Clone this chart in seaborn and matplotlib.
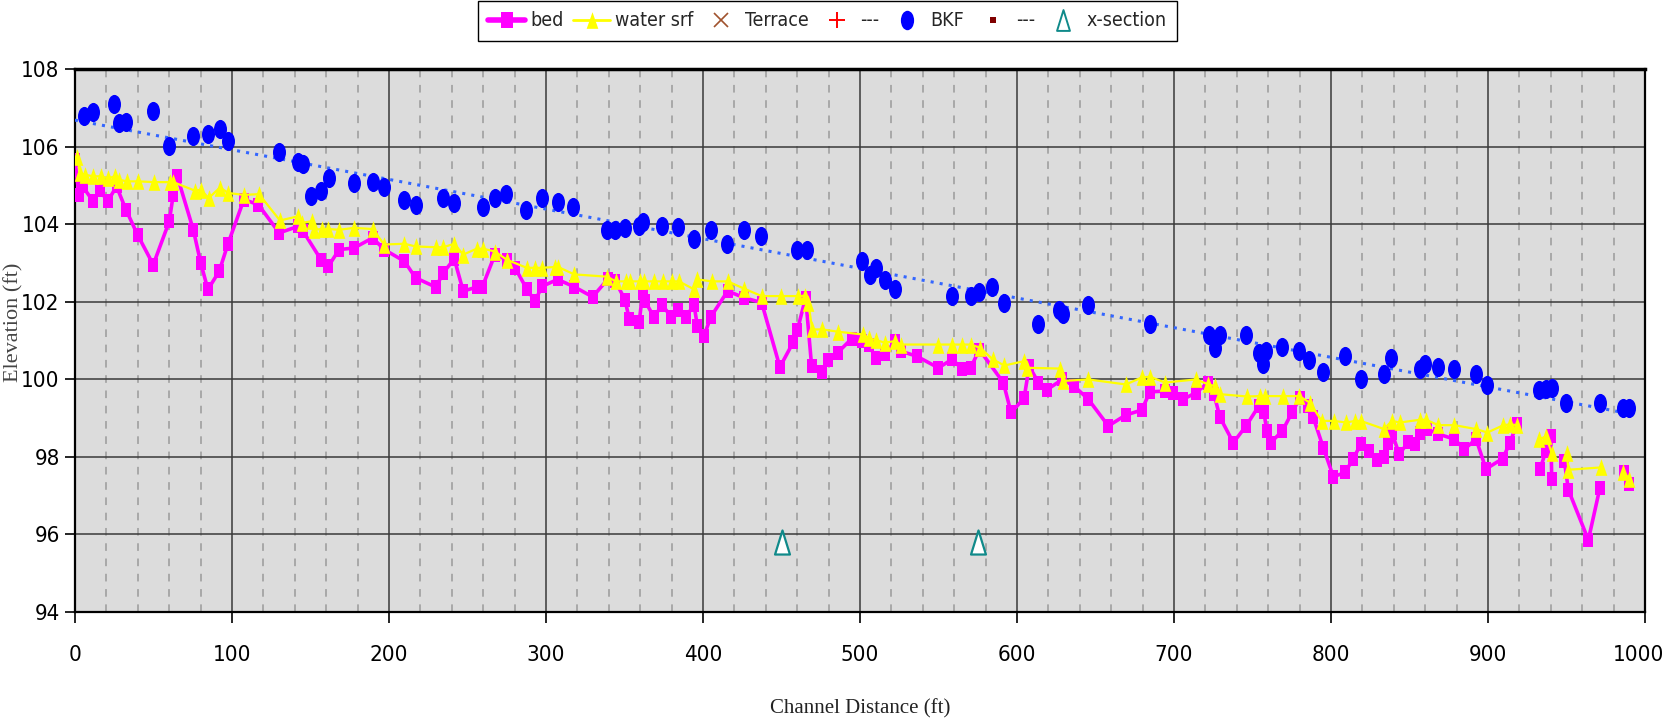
import numpy as np
import pandas as pd
import seaborn as sns
import matplotlib.pyplot as plt
import matplotlib.transforms as mtransforms
from matplotlib.path import Path
from matplotlib.lines import Line2D

# ---- data ----
nan = np.nan

bed_x = [0.0, 2.5, 4.9, 11.7, 15.9, 20.8, 26.5, 32.5, 39.9, 49.9, 60.1, 62.6, 65.2, 75.4, 80.1,
         84.7, 91.9, 97.5, 107.6, 116.8, 130.1, 142.2, 145.4, 156.7, 161.4, 168.3, 177.7, 189.6,
         197.0, 209.8, 217.0, 229.9, 234.6, 241.6, 247.3, 255.8, 259.4, 267.5, 275.0, 280.3, 287.7,
         293.0, 297.5, 307.4, 318.0, 329.7, 339.7, 344.0, 350.3, 353.1, 359.4, 361.6, 363.1, 368.8,
         374.1, 379.6, 384.3, 389.2, 394.3, 396.4, 400.6, 405.1, 415.7, 426.1, 437.4, 449.0, 457.5,
         460.1, 465.4, 469.2, 475.6, 479.4, 485.8, 494.7, 501.1, 505.9, 510.2, 516.0, 522.3, 525.9,
         536.1, 549.9, 558.8, 565.2, 570.5, 576.0, 591.3, 596.2, 604.5, 607.8, 613.6, 618.9, 628.9,
         636.3, 645.4, 658.2, 669.2, 679.4, 684.7, 694.3, 699.6, 706.0, 714.0, 721.9, 725.5, 729.3,
         737.8, 745.9, 754.1, 757.3, 759.1, 761.6, 769.0, 775.2, 780.3, 785.6, 788.7, 795.1, 801.5,
         809.0, 814.2, 819.0, 824.4, 829.1, 833.8, 836.5, 838.7, 843.5, 849.3, 853.5, 856.7, 861.0,
         868.4, 878.6, 884.9, 892.4, 898.7, 909.4, 914.0, 918.3, nan, 933.1, 937.0, 940.0, 940.6,
         nan, 948.6, 951.2, 963.9, 971.3, nan, 986.6, 990.0]
bed_y = [105.67, 104.76, 104.98, 104.59, 104.89, 104.59, 104.98, 104.38, 103.73, 102.96, 104.08,
         104.76, 105.24, 103.86, 103.01, 102.32, 102.79, 103.50, 104.64, 104.51, 103.78, 103.95,
         103.82, 103.09, 102.92, 103.35, 103.39, 103.65, 103.35, 103.05, 102.62, 102.38, 102.75,
         103.11, 102.28, 102.38, 102.38, 103.22, 103.09, 102.88, 102.34, 102.02, 102.40, 102.58,
         102.39, 102.13, 102.60, 102.55, 102.06, 101.55, 101.49, 102.23, 102.02, 101.61, 101.93,
         101.61, 101.78, 101.61, 101.93, 101.39, 101.12, 101.62, 102.28, 102.11, 101.98, 100.32,
         100.96, 101.27, 102.11, 100.35, 100.19, 100.50, 100.69, 101.05, 100.99, 100.88, 100.54,
         100.65, 100.99, 100.73, 100.60, 100.30, 100.52, 100.26, 100.30, 100.77, 99.92, 99.15,
         99.51, 100.34, 99.92, 99.73, 100.00, 99.83, 99.49, 98.80, 99.08, 99.21, 99.68, 99.70,
         99.66, 99.49, 99.66, 99.92, 99.62, 99.02, 98.37, 98.80, 99.32, 99.15, 98.67, 98.37, 98.67,
         99.15, 99.53, 99.32, 99.02, 98.24, 97.49, 97.60, 97.96, 98.33, 98.16, 97.93, 97.99, 98.37,
         98.63, 98.07, 98.39, 98.33, 98.63, 98.72, 98.59, 98.46, 98.20, 98.46, 97.69, 97.96, 98.37,
         98.84, nan, 97.69, 98.16, 98.54, 97.43, nan, 97.90, 97.15, 95.86, 97.21, nan, 97.60, 97.30]

water_x = [1.5, 3.2, 6.4, 11.7, 16.3, 21.2, 25.5, 28.2, 32.9, 40.3, 50.3, 60.5, 62.6, 76.4, 80.1,
           85.2, 92.4, 97.6, 107.6, 117.2, 130.6, 142.2, 144.4, 150.8, 152.4, 157.1, 161.4, 168.3,
           177.7, 189.6, 197.0, 209.8, 217.0, 229.9, 234.6, 241.6, 247.3, 255.8, 260.1, 267.5, 275.0,
           287.7, 293.0, 297.5, 305.7, 307.8, 318.0, 339.0, 344.4, 350.8, 353.5, 359.9, 362.6, 369.0,
           374.7, 380.0, 384.7, 394.5, 396.4, 405.5, 415.7, 426.3, 437.4, 449.5, 460.3, 465.0, 467.1,
           469.6, 476.0, 486.2, 501.7, 505.9, 510.4, 516.0, 522.3, 525.9, 549.9, 558.8, 565.2, 570.5,
           576.4, 584.5, 591.9, 604.5, 606.6, 627.4, 629.1, 645.4, 669.4, 679.4, 684.7, 694.3, 714.0,
           721.9, 726.1, 729.3, 746.3, 754.8, 758.0, 769.2, 779.8, 786.6, 794.0, 801.9, 809.6, 815.3,
           818.9, 833.8, 838.7, 844.0, 856.7, 860.5, 868.4, 878.6, 892.4, 899.6, 909.8, 914.0, 918.7,
           nan, 932.7, 937.0, 940.6, nan, 950.1, 951.2, 971.8, nan, 986.2, 990.0]
water_y = [105.75, 105.32, 105.28, 105.24, 105.24, 105.19, 105.24, 105.15, 105.11, 105.11, 105.09,
           105.09, 105.09, 104.87, 104.89, 104.68, 104.95, 104.81, 104.76, 104.78, 104.10, 104.21,
           104.04, 104.08, 103.86, 103.88, 103.88, 103.86, 103.91, 103.88, 103.48, 103.50, 103.43,
           103.41, 103.41, 103.50, 103.22, 103.37, 103.37, 103.30, 103.09, 102.88, 102.88, 102.88,
           102.90, 102.90, 102.71, 102.65, 102.53, 102.53, 102.53, 102.53, 102.53, 102.53, 102.53,
           102.53, 102.53, 102.32, 102.58, 102.53, 102.53, 102.34, 102.15, 102.15, 102.15, 102.16,
           101.98, 101.29, 101.29, 101.23, 101.16, 101.06, 101.01, 100.95, 100.99, 100.90, 100.90,
           100.90, 100.90, 100.90, 100.82, 100.52, 100.36, 100.47, 100.30, 100.28, 99.96, 100.00,
           99.87, 100.05, 100.07, 99.92, 100.00, 99.87, 99.83, 99.62, 99.56, 99.57, 99.57, 99.57,
           99.57, 99.40, 98.93, 98.93, 98.89, 98.93, 98.93, 98.72, 98.93, 98.89, 98.96, 98.96, 98.82,
           98.82, 98.72, 98.63, 98.82, 98.84, 98.82, nan, 98.46, 98.53, 98.10, nan, 98.10, 97.67,
           97.73, nan, 97.62, 97.43]

bkf_x = [5.9, 11.7, 25.0, 27.8, 32.7, 49.9, 59.9, 75.4, 84.5, 92.2, 97.7, 130.1, 142.0, 145.0,
         150.1, 156.7, 161.9, 177.7, 189.6, 197.0, 209.8, 217.0, 234.6, 241.6, 260.1, 267.5, 274.5,
         287.5, 297.5, 307.4, 317.4, 338.8, 344.0, 350.3, 359.4, 361.6, 374.1, 384.1, 394.5, 405.3,
         415.1, 426.1, 437.1, 460.1, 466.0, 501.3, 506.1, 510.2, 515.7, 522.1, 558.8, 570.5, 576.0,
         584.3, 591.5, 613.6, 627.0, 629.1, 645.4, 684.5, 722.3, 725.9, 729.3, 745.9, 754.3, 756.9,
         758.6, 768.8, 779.8, 786.2, 795.1, 809.0, 819.0, 833.8, 838.2, 856.7, 859.9, 868.4, 878.6,
         892.4, 899.6, 932.7, 937.0, 940.6, 949.7, 971.3, 986.2, 990.0]
bkf_y = [106.80, 106.91, 107.10, 106.61, 106.63, 106.93, 106.03, 106.27, 106.33, 106.46, 106.15,
         105.86, 105.62, 105.56, 104.72, 104.85, 105.20, 105.08, 105.09, 104.97, 104.62, 104.50,
         104.68, 104.55, 104.44, 104.68, 104.79, 104.38, 104.68, 104.57, 104.45, 103.85, 103.85,
         103.91, 103.95, 104.05, 103.97, 103.92, 103.62, 103.86, 103.50, 103.86, 103.69, 103.35,
         103.33, 103.05, 102.70, 102.88, 102.56, 102.32, 102.15, 102.15, 102.26, 102.39, 101.97,
         101.44, 101.80, 101.68, 101.91, 101.44, 101.14, 100.82, 101.14, 101.14, 100.67, 100.41,
         100.73, 100.84, 100.73, 100.49, 100.20, 100.60, 100.02, 100.15, 100.56, 100.26, 100.39,
         100.32, 100.26, 100.15, 99.85, 99.73, 99.75, 99.79, 99.38, 99.38, 99.26, 99.26]

xsec_x = [450.5, 575.4]
xsec_y = [95.8, 95.8]

legend_labels = ['bed', 'water srf', 'Terrace', '---', 'BKF', '---', 'x-section']


def shape_marker(verts):
    verts = list(verts) + [verts[0]]
    codes = [Path.MOVETO] + [Path.LINETO] * (len(verts) - 2) + [Path.CLOSEPOLY]
    return Path(verts, codes)


# markers look squeezed sideways in the original
rect_m = shape_marker([(-0.39, -0.5), (0.39, -0.5), (0.39, 0.5), (-0.39, 0.5)])
tri_m = shape_marker([(-0.35, -0.5), (0.35, -0.5), (0.0, 0.5)])
tall_tri_m = shape_marker([(-0.31, -0.5), (0.31, -0.5), (0.0, 0.5)])
circ = Path.unit_circle()
ell_m = Path(circ.vertices * np.array([0.34, 0.5]), circ.codes)


def segments(xs, ys):
    df = pd.DataFrame({'x': xs, 'y': ys})
    df['seg'] = df['y'].isna().cumsum()
    return df.dropna()


sns.set_theme(style='white')
plt.rcParams['font.family'] = ['DejaVu Sans']
plt.rcParams['font.stretch'] = 'condensed'

fig = plt.figure(figsize=(16.65, 7.28), dpi=100)
ax = fig.add_axes([0.045, 0.1593, 0.943, 0.7455])
ax.set_facecolor('#dcdcdc')

MAGENTA = '#ff00ff'
YELLOW = '#ffff00'
BLUE = '#0000ff'
TEAL = '#108a8a'

# trendline for bankfull (linear, like the spreadsheet one)
slope, icpt = np.polyfit(bkf_x, bkf_y, 1)
tx = np.array([0.0, max(bkf_x)])
ax.plot(tx, icpt + slope * tx, color='#3366ff', lw=2.2, ls=(0, (1, 2)), zorder=3)

sns.lineplot(data=segments(water_x, water_y), x='x', y='y', units='seg', estimator=None,
             sort=False, color=YELLOW, lw=1.6, marker=tri_m, markersize=12,
             markeredgewidth=0, markerfacecolor=YELLOW, legend=False, ax=ax, zorder=5)
sns.lineplot(data=segments(bed_x, bed_y), x='x', y='y', units='seg', estimator=None,
             sort=False, color=MAGENTA, lw=2.6, marker=rect_m, markersize=9.5,
             markeredgewidth=0, markerfacecolor=MAGENTA, legend=False, ax=ax, zorder=4)

ax.scatter(bkf_x, bkf_y, marker=ell_m, s=190, color=BLUE, linewidths=0, zorder=6)
ax.scatter(xsec_x, xsec_y, marker=tall_tri_m, s=300, facecolor='white', edgecolor=TEAL,
           linewidths=1.6, zorder=6)

# axes, grid
ax.set_xlim(0, 1000)
ax.set_ylim(94, 108)
ax.set_xticks(np.arange(0, 1001, 100))
ax.set_xticks(np.arange(0, 1001, 20), minor=True)
ax.set_yticks(np.arange(94, 109, 2))
ax.grid(which='major', color='#3a3a3a', lw=1.1, zorder=1)
ax.grid(which='minor', axis='x', color='#9a9a9a', lw=1.1, ls=(0, (5, 5)), zorder=1)
ax.set_axisbelow(True)
ax.tick_params(axis='x', which='major', direction='out', length=8, width=1.2, pad=16,
               labelsize=16, colors='black', bottom=True)
ax.tick_params(axis='y', which='major', direction='out', length=7, width=1.2, pad=4,
               labelsize=16, colors='black', left=True)
ax.tick_params(which='minor', length=0)
for sp in ax.spines.values():
    sp.set_color('black')
    sp.set_linewidth(1.6)
ax.spines['top'].set_linewidth(2.5)

# the last x label sits against the right edge, nudge it in a little
last = ax.xaxis.get_major_ticks()[-1].label1
last.set_transform(last.get_transform() +
                   mtransforms.ScaledTranslation(-0.07, 0, fig.dpi_scale_trans))

ax.set_xlabel('Channel Distance (ft)', family='Liberation Serif', fontstretch='normal',
              fontsize=15, color='#222222')
ax.set_ylabel('Elevation (ft)', family='Liberation Serif', fontstretch='normal',
              fontsize=16, color='#444444')
ax.xaxis.set_label_coords(0.5, -0.160)
ax.yaxis.set_label_coords(-0.033, 0.534)

handles = [
    Line2D([], [], color=MAGENTA, lw=4, marker=rect_m, ms=11, mew=0),
    Line2D([], [], color=YELLOW, lw=2, marker=tri_m, ms=12, mew=0),
    Line2D([], [], color='#a0522d', ls='none', marker='x', ms=10, mew=1.2),
    Line2D([], [], color='#ff0000', ls='none', marker='+', ms=12, mew=1.4),
    Line2D([], [], color=BLUE, ls='none', marker=ell_m, ms=14, mew=0),
    Line2D([], [], color='#800000', ls='none', marker='s', ms=4, mew=0),
    Line2D([], [], color=TEAL, mfc='white', ls='none', marker=tall_tri_m, ms=15, mew=1.4),
]
leg = fig.legend(handles, legend_labels, loc='upper center', bbox_to_anchor=(0.497, 0.999),
                 ncol=7, frameon=True, fancybox=False, framealpha=1, edgecolor='black',
                 fontsize=14, handlelength=1.9, handletextpad=0.25, columnspacing=0.5,
                 borderpad=0.55, borderaxespad=0.0)
leg.get_frame().set_linewidth(1.0)

fig.savefig('out.png', dpi=100)
